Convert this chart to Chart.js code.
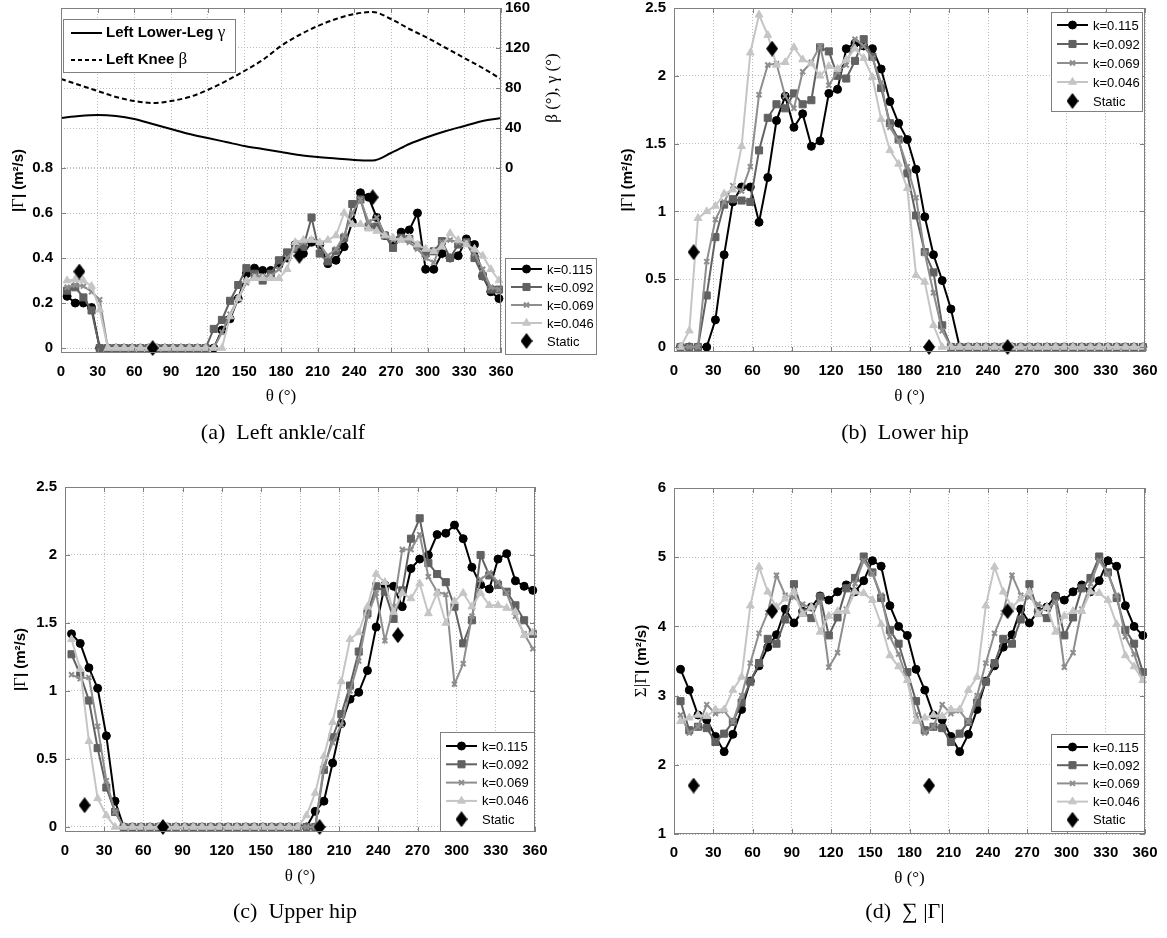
<!DOCTYPE html>
<html>
<head>
<meta charset="utf-8">
<script src="https://cdn.jsdelivr.net/npm/chart.js@4.4.1/dist/chart.umd.min.js"></script>
<style>
  html, body { margin: 0; padding: 0; background: #ffffff; }
  #page { position: relative; width: 1167px; height: 938px; overflow: hidden; }
  #page canvas { position: absolute; left: 0; top: 0; }
  .caption {
    position: absolute; transform: translate(-50%, -50%);
    font-family: "Liberation Serif", "Times New Roman", serif;
    font-size: 22px; color: #000; white-space: pre;
  }
</style>
</head>
<body>
<div id="page">
  <canvas id="chartA" width="1167" height="938"></canvas>
  <canvas id="chartB" width="1167" height="938"></canvas>
  <canvas id="chartC" width="1167" height="938"></canvas>
  <canvas id="chartD" width="1167" height="938"></canvas>
  <div class="caption" style="left:283px;top:432px">(a)  Left ankle/calf</div>
  <div class="caption" style="left:905px;top:432px">(b)  Lower hip</div>
  <div class="caption" style="left:295px;top:911px">(c)  Upper hip</div>
  <div class="caption" style="left:905px;top:911px">(d)  ∑ |Γ|</div>
</div>
<script>
// crank angle of every sample (deg), shared by all panels
const THETA = [5, 11.67, 18.33, 25, 31.67, 38.33, 45, 51.67, 58.33, 65, 71.67, 78.33, 85, 91.67,
  98.33, 105, 111.67, 118.33, 125, 131.67, 138.33, 145, 151.67, 158.33, 165, 171.67, 178.33,
  185, 191.67, 198.33, 205, 211.67, 218.33, 225, 231.67, 238.33, 245, 251.67, 258.33, 265,
  271.67, 278.33, 285, 291.67, 298.33, 305, 311.67, 318.33, 325, 331.67, 338.33, 345, 351.67, 358.33];

// (a) left ankle/calf |Gamma|
const ANKLE_K115 = [0.23, 0.20, 0.20, 0.18, 0, 0, 0, 0, 0, 0, 0, 0, 0, 0, 0, 0, 0, 0,
  0, 0.08, 0.13, 0.22, 0.33, 0.355, 0.345, 0.345, 0.37, 0.40, 0.46, 0.42, 0.47, 0.46, 0.375, 0.39,
  0.45, 0.56, 0.69, 0.67, 0.58, 0.50, 0.47, 0.515, 0.525, 0.60, 0.35, 0.35, 0.42, 0.40, 0.41,
  0.485, 0.46, 0.32, 0.25, 0.22];
const ANKLE_K092 = [0.255, 0.27, 0.225, 0.167, 0, 0, 0, 0, 0, 0, 0, 0, 0, 0, 0, 0, 0, 0,
  0.085, 0.125, 0.21, 0.28, 0.355, 0.33, 0.30, 0.33, 0.39, 0.425, 0.44, 0.45, 0.58, 0.42, 0.385,
  0.43, 0.49, 0.64, 0.66, 0.54, 0.54, 0.50, 0.445, 0.49, 0.485, 0.455, 0.42, 0.43, 0.475, 0.40,
  0.46, 0.47, 0.40, 0.32, 0.26, 0.26];
const ANKLE_K069 = [0.27, 0.28, 0.275, 0.25, 0.215, 0, 0, 0, 0, 0, 0, 0, 0, 0, 0, 0, 0, 0,
  0, 0.07, 0.15, 0.22, 0.29, 0.32, 0.32, 0.32, 0.35, 0.40, 0.44, 0.47, 0.48, 0.46, 0.41, 0.44,
  0.50, 0.60, 0.66, 0.56, 0.58, 0.50, 0.48, 0.48, 0.47, 0.44, 0.40, 0.38, 0.47, 0.48, 0.47,
  0.47, 0.42, 0.35, 0.27, 0.26];
const ANKLE_K046 = [0.30, 0.305, 0.30, 0.275, 0.17, 0, 0, 0, 0, 0, 0, 0, 0, 0, 0, 0, 0, 0,
  0, 0, 0.14, 0.22, 0.30, 0.31, 0.31, 0.31, 0.31, 0.35, 0.47, 0.48, 0.48, 0.47, 0.48, 0.50,
  0.60, 0.55, 0.55, 0.53, 0.52, 0.50, 0.49, 0.48, 0.49, 0.46, 0.44, 0.43, 0.45, 0.51, 0.48,
  0.46, 0.44, 0.41, 0.35, 0.30];
const STATIC_THETA = [15, 75, 195, 255];
const ANKLE_STATIC = [0.34, 0, 0.41, 0.67];

// joint angles drawn in the top of panel (a), right axis (deg)
const ANGLE_THETA = [0, 15, 30, 45, 60, 75, 90, 105, 120, 135, 150, 165, 180, 195, 210, 225,
  240, 255, 270, 285, 300, 315, 330, 345, 360];
const KNEE_BETA = [89, 83, 77, 71, 67, 65, 67, 71, 78, 87, 97, 108, 122, 133, 142, 149,
  154, 156, 149, 139, 130, 120, 110, 100, 89];
const SHANK_GAMMA = [50, 52, 53, 52, 49, 44, 39, 34, 30, 26, 22, 19, 16, 13, 11, 9.5,
  8, 7.5, 15, 24, 31, 37, 42, 47, 50];

// (b) lower hip
const LHIP_K115 = [0, 0, 0, 0, 0.20, 0.68, 1.07, 1.18, 1.18, 0.92, 1.25, 1.67, 1.85, 1.62,
  1.72, 1.48, 1.52, 1.87, 1.90, 2.20, 2.24, 2.22, 2.20, 2.05, 1.81, 1.65, 1.53, 1.31, 0.96,
  0.68, 0.49, 0.28, 0, 0, 0, 0, 0, 0, 0, 0, 0, 0, 0, 0, 0, 0, 0, 0, 0, 0, 0, 0, 0, 0];
const LHIP_K092 = [0, 0, 0, 0.38, 0.81, 1.05, 1.09, 1.08, 1.07, 1.45, 1.69, 1.79, 1.76, 1.87,
  1.79, 1.82, 2.21, 2.18, 2.00, 1.98, 2.11, 2.27, 2.14, 1.91, 1.65, 1.53, 1.28, 0.97, 0.70,
  0.55, 0.16, 0, 0, 0, 0, 0, 0, 0, 0, 0, 0, 0, 0, 0, 0, 0, 0, 0, 0, 0, 0, 0, 0, 0];
const LHIP_K069 = [0, 0, 0, 0.63, 0.94, 1.07, 1.19, 1.15, 1.33, 1.86, 2.08, 2.09, 1.85, 1.76,
  2.03, 2.10, 2.22, 1.93, 2.03, 2.08, 2.27, 2.22, 2.13, 1.95, 1.62, 1.52, 1.33, 1.10, 0.69,
  0.40, 0.12, 0, 0, 0, 0, 0, 0, 0, 0, 0, 0, 0, 0, 0, 0, 0, 0, 0, 0, 0, 0, 0, 0, 0];
const LHIP_K046 = [0, 0.12, 0.95, 1.00, 1.04, 1.13, 1.16, 1.48, 2.17, 2.45, 2.30, 2.08, 2.10,
  2.21, 2.12, 2.09, 2.00, 2.07, 2.05, 2.12, 2.20, 2.13, 1.99, 1.68, 1.45, 1.35, 1.17, 0.53,
  0.48, 0.16, 0, 0, 0, 0, 0, 0, 0, 0, 0, 0, 0, 0, 0, 0, 0, 0, 0, 0, 0, 0, 0, 0, 0, 0];
const LHIP_STATIC = [0.70, 2.20, 0, 0];

// (c) upper hip
const UHIP_K115 = [1.42, 1.35, 1.17, 1.02, 0.67, 0.19, 0, 0, 0, 0, 0, 0, 0, 0, 0, 0, 0, 0,
  0, 0, 0, 0, 0, 0, 0, 0, 0, 0, 0.115, 0.19, 0.47, 0.76, 0.94, 0.99, 1.15, 1.47, 1.78, 1.77,
  1.62, 1.90, 1.97, 2.00, 2.15, 2.16, 2.22, 2.12, 1.91, 1.78, 1.75, 1.97, 2.01, 1.81, 1.77, 1.74];
const UHIP_K092 = [1.27, 1.12, 0.93, 0.58, 0.29, 0.11, 0, 0, 0, 0, 0, 0, 0, 0, 0, 0, 0, 0,
  0, 0, 0, 0, 0, 0, 0, 0, 0, 0, 0, 0.42, 0.66, 0.83, 1.04, 1.29, 1.57, 1.77, 1.73, 1.53,
  1.74, 2.12, 2.27, 1.94, 1.86, 1.80, 1.62, 1.35, 1.52, 2.00, 1.85, 1.78, 1.73, 1.63, 1.52, 1.42];
const UHIP_K069 = [1.12, 1.09, 1.10, 0.74, 0.34, 0.11, 0, 0, 0, 0, 0, 0, 0, 0, 0, 0, 0, 0,
  0, 0, 0, 0, 0, 0, 0, 0, 0, 0, 0, 0.45, 0.62, 0.75, 1.00, 1.22, 1.55, 1.72, 1.37, 1.62,
  2.04, 2.04, 2.15, 1.84, 1.73, 1.71, 1.05, 1.20, 1.55, 1.82, 1.87, 1.80, 1.72, 1.55, 1.42, 1.31];
const UHIP_K046 = [1.38, 1.16, 0.63, 0.21, 0.085, 0, 0, 0, 0, 0, 0, 0, 0, 0, 0, 0, 0, 0,
  0, 0, 0, 0, 0, 0, 0, 0, 0, 0.085, 0.25, 0.52, 0.77, 1.07, 1.38, 1.43, 1.62, 1.86, 1.80, 1.58,
  1.72, 1.68, 1.79, 1.57, 1.72, 1.50, 1.66, 1.72, 1.62, 1.72, 1.63, 1.63, 1.61, 1.58, 1.41, 1.43];
const UHIP_STATIC = [0.16, 0, 0, 1.41];

// (d) sum of |Gamma|
const SUM_K115 = [3.38, 3.08, 2.72, 2.65, 2.41, 2.19, 2.44, 2.80, 3.21, 3.43, 3.70, 3.88, 4.25,
  4.05, 4.22, 4.28, 4.44, 4.38, 4.50, 4.60, 4.50, 4.66, 4.95, 4.87, 4.30, 4.00, 3.87,
  3.38, 3.08, 2.72, 2.65, 2.41, 2.19, 2.44, 2.80, 3.21, 3.43, 3.70, 3.88, 4.25,
  4.05, 4.22, 4.28, 4.44, 4.38, 4.50, 4.60, 4.50, 4.66, 4.95, 4.87, 4.30, 4.00, 3.87];
const SUM_K092 = [2.92, 2.50, 2.55, 2.53, 2.33, 2.45, 2.62, 2.90, 3.20, 3.47, 3.82, 3.75, 4.10,
  4.61, 4.20, 4.12, 4.43, 3.87, 4.13, 4.55, 4.70, 5.01, 4.78, 4.41, 3.95, 3.75, 3.34,
  2.92, 2.50, 2.55, 2.53, 2.33, 2.45, 2.62, 2.90, 3.20, 3.47, 3.82, 3.75, 4.10,
  4.61, 4.20, 4.12, 4.43, 3.87, 4.13, 4.55, 4.70, 5.01, 4.78, 4.41, 3.95, 3.75, 3.34];
const SUM_K069 = [2.72, 2.46, 2.55, 2.87, 2.74, 2.78, 2.62, 3.00, 3.47, 3.90, 4.20, 4.74, 4.45,
  4.42, 4.32, 4.26, 4.35, 3.41, 3.62, 4.25, 4.62, 4.95, 4.76, 4.45, 3.85, 3.60, 3.23,
  2.72, 2.46, 2.55, 2.87, 2.74, 2.78, 2.62, 3.00, 3.47, 3.90, 4.20, 4.74, 4.45,
  4.42, 4.32, 4.26, 4.35, 3.41, 3.62, 4.25, 4.62, 4.95, 4.76, 4.45, 3.85, 3.60, 3.23];
const SUM_K046 = [2.63, 2.68, 2.72, 2.70, 2.80, 2.80, 3.08, 3.27, 4.30, 4.86, 4.50, 4.28, 4.40,
  4.50, 4.18, 4.28, 3.92, 4.15, 4.22, 4.22, 4.50, 4.48, 4.38, 4.03, 3.58, 3.42, 3.22,
  2.63, 2.68, 2.72, 2.70, 2.80, 2.80, 3.08, 3.27, 4.30, 4.86, 4.50, 4.28, 4.40,
  4.50, 4.18, 4.28, 3.92, 4.15, 4.22, 4.22, 4.50, 4.48, 4.38, 4.03, 3.58, 3.42, 3.22];
const SUM_STATIC = [1.70, 4.22, 1.70, 4.22];

// tick values
const X_TICKS = [0, 30, 60, 90, 120, 150, 180, 210, 240, 270, 300, 330, 360];
const ANKLE_TICKS = [0, 0.2, 0.4, 0.6, 0.8];
const ANGLE_TICKS = [0, 40, 80, 120, 160];
const HIP_TICKS = [0, 0.5, 1, 1.5, 2, 2.5];
const SUM_TICKS = [1, 2, 3, 4, 5, 6];
const K_LABELS = ['k=0.115', 'k=0.092', 'k=0.069', 'k=0.046'];
const STATIC_LABEL = 'Static';

const SANS = '"Liberation Sans", Arial, sans-serif';
const SERIF = '"Liberation Serif", "Times New Roman", serif';
const GRID = '#bdbdbd';
const FRAME = '#808080';
const Y_AXIS_W = 60, X_AXIS_H = 60, PAGE_W = 1167, PAGE_H = 938;

const K_STYLES = [
  { color: '#000000', pointStyle: 'circle', radius: 4 },
  { color: '#616161', pointStyle: 'rect', radius: 5 },
  { color: '#8e8e8e', pointStyle: 'crossRot', radius: 3.5 },
  { color: '#c5c5c5', pointStyle: 'triangle', radius: 4.5 },
];

// tall black diamond used for the static values
const diamond = (() => {
  const c = document.createElement('canvas');
  c.width = 12; c.height = 16;
  const g = c.getContext('2d');
  g.fillStyle = '#000';
  g.beginPath(); g.moveTo(6, 0); g.lineTo(12, 8); g.lineTo(6, 16); g.lineTo(0, 8); g.closePath();
  g.fill();
  return c;
})();

function kSeries(lists) {
  return lists.map((vals, i) => {
    const st = K_STYLES[i];
    return {
      label: K_LABELS[i],
      data: THETA.map((t, j) => ({ x: t, y: vals[j] })),
      borderColor: st.color, backgroundColor: st.color,
      pointBorderColor: st.color, pointBackgroundColor: st.color,
      borderWidth: 2, pointStyle: st.pointStyle, pointRadius: st.radius,
      pointBorderWidth: st.pointStyle === 'crossRot' ? 2 : 1,
      tension: 0, clip: false, order: 10 - i, yAxisID: 'y', isLegend: true
    };
  });
}

function staticSeries(vals) {
  return {
    label: STATIC_LABEL,
    data: STATIC_THETA.map((t, j) => ({ x: t, y: vals[j] })),
    showLine: false, pointStyle: diamond, pointRadius: 8,
    borderColor: '#000', backgroundColor: '#000',
    clip: false, order: 0, yAxisID: 'y', isLegend: true
  };
}

function xScale() {
  return {
    type: 'linear', min: 0, max: 360,
    afterBuildTicks: s => { s.ticks = X_TICKS.map(v => ({ value: v })); },
    afterFit: s => { s.height = X_AXIS_H; s.paddingLeft = 0; s.paddingRight = 0; },
    grid: { color: GRID, drawTicks: false, lineWidth: 1 },
    border: { display: false, dash: [1, 2] },
    ticks: { color: '#000', font: { family: SANS, size: 15, weight: 'bold' }, padding: 10,
             maxRotation: 0, autoSkip: false, callback: v => String(v) }
  };
}

function yScale(min, max, ticks, position, pad) {
  return {
    type: 'linear', position, min, max,
    afterBuildTicks: s => { s.ticks = ticks.map(v => ({ value: v })); },
    afterFit: s => { s.width = Y_AXIS_W; s.paddingTop = 0; s.paddingBottom = 0; },
    grid: { color: GRID, drawTicks: false, lineWidth: 1 },
    border: { display: false, dash: [1, 2] },
    ticks: { color: '#000', font: { family: SANS, size: 15, weight: 'bold' }, padding: pad,
             autoSkip: false, callback: v => String(v) }
  };
}

// small rich-text helper: parts = [{t, f}]
function richWidth(ctx, parts) {
  return parts.reduce((w, p) => { ctx.font = p.f; return w + ctx.measureText(p.t).width; }, 0);
}
function drawRich(ctx, parts, x, y, rotate, align) {
  ctx.save();
  ctx.translate(x, y);
  if (rotate) ctx.rotate(-Math.PI / 2);
  ctx.fillStyle = '#000';
  ctx.textBaseline = 'middle';
  ctx.textAlign = 'left';
  let cx = align === 'left' ? 0 : -richWidth(ctx, parts) / 2;
  parts.forEach(p => { ctx.font = p.f; ctx.fillText(p.t, cx, 0); cx += ctx.measureText(p.t).width; });
  ctx.restore();
}

function seg(ctx, x1, y1, x2, y2) {
  ctx.beginPath(); ctx.moveTo(x1, y1); ctx.lineTo(x2, y2); ctx.stroke();
}

function drawKLegend(ctx, chart, box) {
  ctx.save();
  ctx.fillStyle = '#fff';
  ctx.fillRect(box.x, box.y, box.w, box.h);
  ctx.strokeStyle = FRAME; ctx.lineWidth = 1;
  ctx.strokeRect(box.x + 0.5, box.y + 0.5, box.w, box.h);
  const items = chart.data.datasets.filter(d => d.isLegend);
  items.forEach((ds, r) => {
    const cy = box.y + box.first + r * box.row;
    if (ds.showLine !== false) {
      ctx.strokeStyle = ds.borderColor; ctx.lineWidth = 2;
      seg(ctx, box.x + 6, cy, box.x + 37, cy);
    }
    ctx.fillStyle = ds.backgroundColor; ctx.strokeStyle = ds.borderColor;
    ctx.lineWidth = ds.pointBorderWidth || 1;
    Chart.helpers.drawPoint(ctx, { pointStyle: ds.pointStyle, radius: ds.pointRadius,
      borderWidth: ds.pointBorderWidth || 1, rotation: 0 }, box.x + 21.5, cy);
    ctx.fillStyle = '#000';
    ctx.font = `13px ${SANS}`;
    ctx.textBaseline = 'middle'; ctx.textAlign = 'left';
    ctx.fillText(ds.label, box.x + 42, cy + 1);
  });
  ctx.restore();
}

const decor = {
  id: 'decor',
  afterDatasetsDraw(chart, args, o) {
    const ctx = chart.ctx, a = chart.chartArea;
    ctx.save();
    ctx.strokeStyle = FRAME; ctx.lineWidth = 1;
    // inward tick marks on all sides
    const xs = chart.scales.x;
    X_TICKS.forEach(v => {
      const px = Math.round(xs.getPixelForValue(v)) + 0.5;
      seg(ctx, px, a.bottom, px, a.bottom - 5);
      seg(ctx, px, a.top, px, a.top + 5);
    });
    const ys = chart.scales.y;
    ys.ticks.forEach(t => {
      const py = Math.round(ys.getPixelForValue(t.value)) + 0.5;
      seg(ctx, a.left, py, a.left + 5, py);
      if (!chart.scales.y2) seg(ctx, a.right, py, a.right - 5, py);
    });
    if (chart.scales.y2) {
      const y2 = chart.scales.y2;
      y2.ticks.forEach(t => {
        const py = Math.round(y2.getPixelForValue(t.value)) + 0.5;
        seg(ctx, a.right, py, a.right - 5, py);
      });
    }
    ctx.strokeRect(Math.round(a.left) + 0.5, Math.round(a.top) + 0.5,
                   Math.round(a.right - a.left) - 1, Math.round(a.bottom - a.top) - 1);
    ctx.restore();

    // axis titles
    const xMid = (a.left + a.right) / 2;
    drawRich(ctx, [{ t: 'θ (°)', f: `17px ${SERIF}` }], xMid, a.bottom + o.xTitleGap, false);
    drawRich(ctx, o.yTitle, o.yTitleX, (a.top + a.bottom) / 2, true);
    if (o.y2Title) drawRich(ctx, o.y2Title.parts, o.y2Title.x, o.y2Title.y, true);

    if (o.angleLegend) {
      const b = o.angleLegend;
      ctx.save();
      ctx.fillStyle = '#fff'; ctx.fillRect(b.x, b.y, b.w, b.h);
      ctx.strokeStyle = FRAME; ctx.lineWidth = 1; ctx.strokeRect(b.x + 0.5, b.y + 0.5, b.w, b.h);
      const rows = [
        { dash: [], parts: [{ t: 'Left Lower-Leg ', f: `bold 15px ${SANS}` }, { t: 'γ', f: `17px ${SERIF}` }] },
        { dash: [4, 3], parts: [{ t: 'Left Knee ', f: `bold 15px ${SANS}` }, { t: 'β', f: `17px ${SERIF}` }] }
      ];
      rows.forEach((r, i) => {
        const cy = b.y + b.first + i * b.row;
        ctx.strokeStyle = '#000'; ctx.lineWidth = 2; ctx.setLineDash(r.dash);
        seg(ctx, b.x + 8, cy, b.x + 39, cy);
        ctx.setLineDash([]);
        drawRich(ctx, r.parts, b.x + 43, cy, false, 'left');
      });
      ctx.restore();
    }
    drawKLegend(ctx, chart, o.kLegend);
  }
};
Chart.register(decor);

const yGamma = [{ t: '|', f: `bold 15px ${SANS}` }, { t: 'Γ', f: `17px ${SERIF}` },
                { t: '| (m²/s)', f: `bold 15px ${SANS}` }];

function makeChart(id, plot, opts) {
  const rightW = opts.y2 ? Y_AXIS_W : 0;
  const scales = { x: xScale(), y: opts.y };
  if (opts.y2) scales.y2 = opts.y2;
  return new Chart(document.getElementById(id), {
    type: 'line',
    data: { datasets: opts.datasets },
    options: {
      responsive: false, animation: false, events: [],
      layout: {
        autoPadding: false,
        padding: { left: plot.l - Y_AXIS_W, right: PAGE_W - plot.r - rightW,
                   top: plot.t, bottom: PAGE_H - plot.b - X_AXIS_H }
      },
      scales,
      plugins: { legend: { display: false }, tooltip: { enabled: false }, decor: opts.decor }
    }
  });
}

// (a) left ankle/calf with joint angles on the right axis
const angleSets = [
  { label: 'Left Lower-Leg γ', data: ANGLE_THETA.map((t, j) => ({ x: t, y: SHANK_GAMMA[j] })),
    borderColor: '#000', borderWidth: 2, pointRadius: 0, cubicInterpolationMode: 'monotone',
    yAxisID: 'y2', order: 20 },
  { label: 'Left Knee β', data: ANGLE_THETA.map((t, j) => ({ x: t, y: KNEE_BETA[j] })),
    borderColor: '#000', borderWidth: 2, borderDash: [5, 3], pointRadius: 0,
    cubicInterpolationMode: 'monotone', yAxisID: 'y2', order: 20 }
];
makeChart('chartA', { l: 61, r: 501, t: 8, b: 353 }, {
  datasets: kSeries([ANKLE_K115, ANKLE_K092, ANKLE_K069, ANKLE_K046])
    .concat([staticSeries(ANKLE_STATIC)], angleSets),
  y: yScale(-0.022, 1.511, ANKLE_TICKS, 'left', 8),
  y2: yScale(-185, 160, ANGLE_TICKS, 'right', 4),
  decor: {
    xTitleGap: 44, yTitle: yGamma, yTitleX: 19,
    y2Title: { parts: [{ t: 'β (°), γ (°)', f: `17px ${SERIF}` }], x: 553, y: 88 },
    angleLegend: { x: 63, y: 19, w: 172, h: 53, first: 14, row: 27 },
    kLegend: { x: 505, y: 258, w: 91, h: 96, first: 11, row: 18 }
  }
});

// (b) lower hip
makeChart('chartB', { l: 674, r: 1145, t: 8, b: 352 }, {
  datasets: kSeries([LHIP_K115, LHIP_K092, LHIP_K069, LHIP_K046]).concat([staticSeries(LHIP_STATIC)]),
  y: yScale(-0.037, 2.5, HIP_TICKS, 'left', 8),
  decor: {
    xTitleGap: 45, yTitle: yGamma, yTitleX: 628,
    kLegend: { x: 1051, y: 12, w: 91, h: 99, first: 13, row: 19 }
  }
});

// (c) upper hip
makeChart('chartC', { l: 65, r: 535, t: 487, b: 832 }, {
  datasets: kSeries([UHIP_K115, UHIP_K092, UHIP_K069, UHIP_K046]).concat([staticSeries(UHIP_STATIC)]),
  y: yScale(-0.037, 2.5, HIP_TICKS, 'left', 8),
  decor: {
    xTitleGap: 45, yTitle: yGamma, yTitleX: 21,
    kLegend: { x: 440, y: 732, w: 94, h: 99, first: 14, row: 18.3 }
  }
});

// (d) sum over all segments
makeChart('chartD', { l: 674, r: 1145, t: 488, b: 834 }, {
  datasets: kSeries([SUM_K115, SUM_K092, SUM_K069, SUM_K046]).concat([staticSeries(SUM_STATIC)]),
  y: yScale(1, 6, SUM_TICKS, 'left', 8),
  decor: {
    xTitleGap: 45, yTitleX: 642,
    yTitle: [{ t: 'Σ|', f: `17px ${SERIF}` }, { t: 'Γ', f: `17px ${SERIF}` },
             { t: '| (m²/s)', f: `bold 15px ${SANS}` }],
    kLegend: { x: 1051, y: 734, w: 93, h: 97, first: 13, row: 18.2 }
  }
});
</script>
</body>
</html>
